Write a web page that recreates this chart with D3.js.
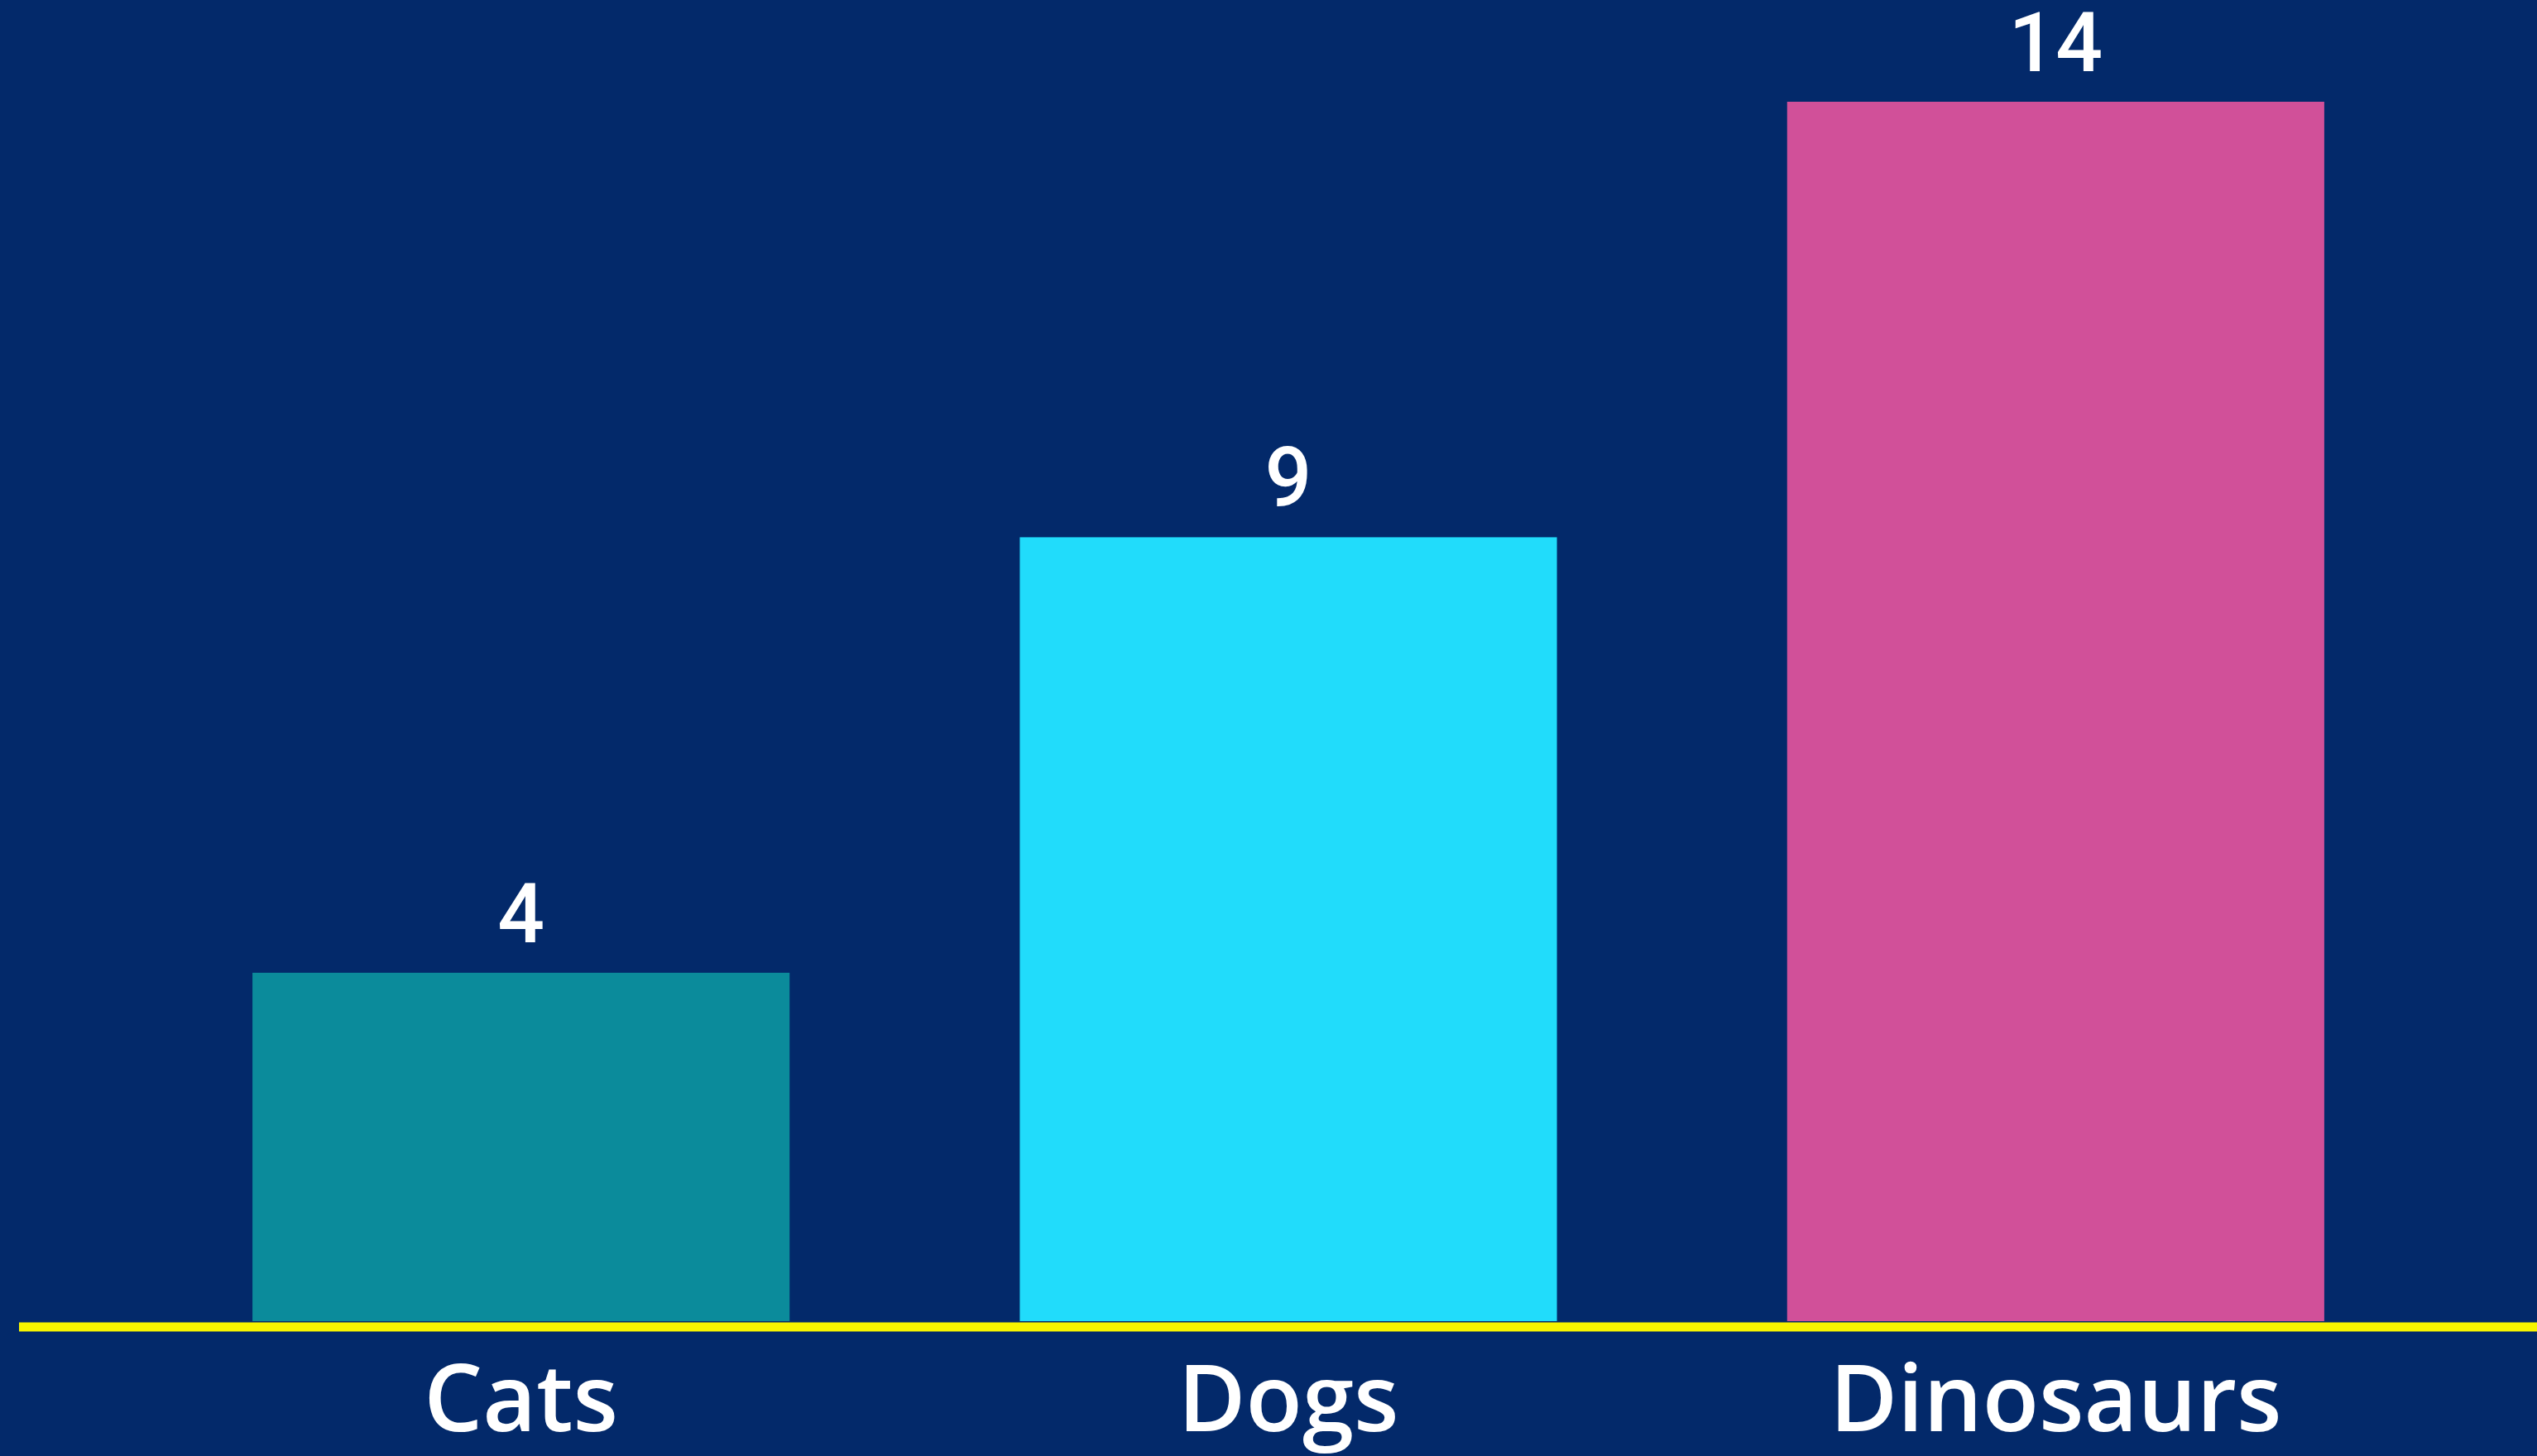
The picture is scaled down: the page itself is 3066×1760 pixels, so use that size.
<!DOCTYPE html>
<html>
<head>
<meta charset="utf-8">
<script src="https://cdn.jsdelivr.net/npm/d3@7"></script>
<style>
  html, body { margin: 0; padding: 0; background: #03296a; overflow: hidden; }
  svg { display: block; }
</style>
</head>
<body>
<svg id="chart"></svg>
<script>
// Favourite animals
const categories = ["Cats", "Dogs", "Dinosaurs"];
const values = [4, 9, 14];
const barColors = ["#0b8b9b", "#21dcfb", "#d15099"];

const W = 3066, H = 1760;
const svg = d3.select("#chart").attr("width", W).attr("height", H);

svg.append("rect").attr("width", W).attr("height", H).attr("fill", "#03296a");

const baseY = 1597;
const x = d3.scaleBand()
  .domain(categories)
  .range([166, 2948])
  .paddingInner(0.3)
  .paddingOuter(0.15);

const y = d3.scaleLinear()
  .domain([0, 14])
  .range([baseY, 123]);

const color = d3.scaleOrdinal().domain(categories).range(barColors);

const data = categories.map((c, i) => ({ c, v: values[i] }));

// bars
svg.append("g").selectAll("rect")
  .data(data)
  .join("rect")
  .attr("x", d => x(d.c))
  .attr("y", d => y(d.v))
  .attr("width", x.bandwidth())
  .attr("height", d => baseY - y(d.v))
  .attr("fill", d => color(d.c));

// value labels above bars
svg.append("g").selectAll("text")
  .data(data)
  .join("text")
  .attr("x", d => x(d.c) + x.bandwidth() / 2)
  .attr("y", d => y(d.v) - 37)
  .attr("text-anchor", "middle")
  .attr("fill", "#ffffff")
  .attr("font-family", "Roboto, 'DejaVu Sans', sans-serif")
  .attr("font-weight", 500)
  .attr("font-size", 100)
  .text(d => d.v);

// baseline
svg.append("line")
  .attr("x1", 23).attr("x2", W)
  .attr("y1", baseY + 7).attr("y2", baseY + 7)
  .attr("stroke", "#f7f400")
  .attr("stroke-width", 11);

// category axis labels
const xAxis = d3.axisBottom(x).tickSize(0).tickPadding(0);
const gx = svg.append("g")
  .attr("transform", `translate(0,${baseY + 133})`)
  .call(xAxis);
gx.select(".domain").remove();
gx.selectAll("text")
  .attr("dy", 0)
  .attr("fill", "#ffffff")
  .attr("font-family", "'Open Sans', 'Noto Sans', sans-serif")
  .attr("font-weight", 600)
  .attr("font-size", 112);
</script>
</body>
</html>
